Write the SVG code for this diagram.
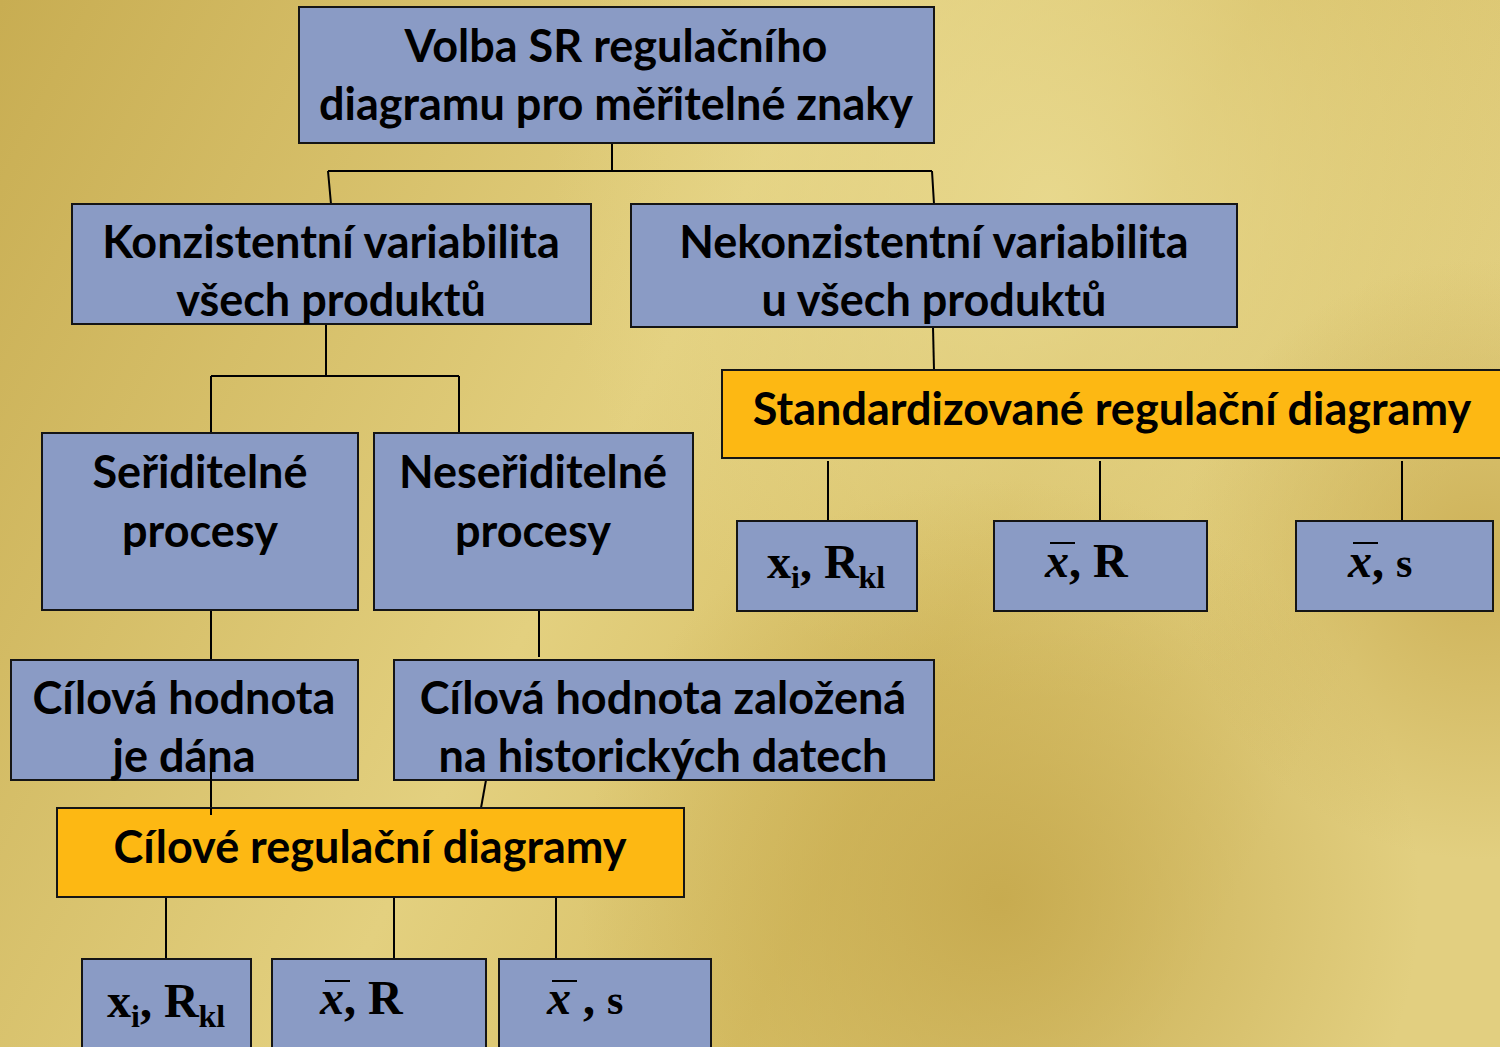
<svg xmlns="http://www.w3.org/2000/svg" width="1500" height="1047" viewBox="0 0 1500 1047">
<defs>
<linearGradient id="bg" x1="0" y1="0" x2="1" y2="0.35">
<stop offset="0" stop-color="#C8AD52"/>
<stop offset="0.5" stop-color="#E3D07F"/>
<stop offset="0.75" stop-color="#D7BF66"/>
<stop offset="1" stop-color="#E2CF80"/>
</linearGradient>
<radialGradient id="dark" cx="1000" cy="900" r="420" gradientUnits="userSpaceOnUse">
<stop offset="0" stop-color="#C5A84C" stop-opacity="0.9"/>
<stop offset="1" stop-color="#C5A84C" stop-opacity="0"/>
</radialGradient>
<radialGradient id="light" cx="1050" cy="200" r="500" gradientUnits="userSpaceOnUse">
<stop offset="0" stop-color="#E9DA90" stop-opacity="0.9"/>
<stop offset="1" stop-color="#E9DA90" stop-opacity="0"/>
</radialGradient>
<radialGradient id="dark2" cx="1480" cy="560" r="300" gradientUnits="userSpaceOnUse">
<stop offset="0" stop-color="#C8AA4E" stop-opacity="0.8"/>
<stop offset="1" stop-color="#C8AA4E" stop-opacity="0"/>
</radialGradient>
<style>
.b{fill:#8A9BC5;stroke:#151515;stroke-width:2}
.o{fill:#FDB813;stroke:#151515;stroke-width:2}
.t{font-family:Lato,"Open Sans",sans-serif;font-weight:bold;font-size:45px;fill:#000;text-anchor:middle}
.f{font-family:"Liberation Serif","Times New Roman",serif;font-weight:bold;font-size:48px;fill:#000}
.it{font-style:italic}
.c{stroke:#000;stroke-width:2;fill:none}
.ov{stroke:#000;stroke-width:2}
</style>
</defs>
<rect width="1500" height="1047" fill="url(#bg)"/>
<rect width="1500" height="1047" fill="url(#light)"/>
<rect width="1500" height="1047" fill="url(#dark)"/>
<rect width="1500" height="1047" fill="url(#dark2)"/>

<g id="connectors">
<path class="c" d="M612,143 V171 M328,171 H932 M328,171 L331,204 M932,171 L934,204"/>
<path class="c" d="M326,324 V376 M211,376 H459 M211,376 V433 M459,376 V433"/>
<path class="c" d="M933,327 L934,370"/>
<path class="c" d="M828,461 V521 M1100,461 V521 M1402,461 V521"/>
<path class="c" d="M211,610 V660 M539,610 V657"/>
<path class="c" d="M486,780 L481,808"/>
<path class="c" d="M166,897 V959 M394,897 V959 M556,897 V959"/>
</g>

<g id="n-top">
<rect class="b" x="299" y="7" width="635" height="136"/>
<text class="t" x="616" y="62">Volba SR regulačního</text>
<text class="t" x="616" y="120">diagramu pro měřitelné znaky</text>
</g>
<g id="n-konz">
<rect class="b" x="72" y="204" width="519" height="120"/>
<text class="t" x="331" y="258">Konzistentní variabilita</text>
<text class="t" x="331" y="316">všech produktů</text>
</g>
<g id="n-nekonz">
<rect class="b" x="631" y="204" width="606" height="123"/>
<text class="t" x="934" y="258">Nekonzistentní variabilita</text>
<text class="t" x="934" y="316">u všech produktů</text>
</g>
<g id="n-std">
<rect class="o" x="722" y="370" width="790" height="88"/>
<text class="t" x="1112" y="425">Standardizované regulační diagramy</text>
</g>
<g id="n-ser">
<rect class="b" x="42" y="433" width="316" height="177"/>
<text class="t" x="200" y="488">Seřiditelné</text>
<text class="t" x="200" y="547">procesy</text>
</g>
<g id="n-neser">
<rect class="b" x="374" y="433" width="319" height="177"/>
<text class="t" x="533" y="488">Neseřiditelné</text>
<text class="t" x="533" y="547">procesy</text>
</g>
<g id="n-r1">
<rect class="b" x="737" y="521" width="180" height="90"/>
<text class="f" x="767" y="578">x<tspan font-size="32" dy="10">i</tspan><tspan dy="-10">, R</tspan><tspan font-size="32" dy="10">kl</tspan></text>
</g>
<g id="n-r2">
<rect class="b" x="994" y="521" width="213" height="90"/>
<text class="f" x="1045" y="577"><tspan class="it">x</tspan>, R</text>
<line class="ov" x1="1050" y1="543" x2="1075" y2="543"/>
</g>
<g id="n-r3">
<rect class="b" x="1296" y="521" width="197" height="90"/>
<text class="f" x="1348" y="577"><tspan class="it">x</tspan>, <tspan font-size="42">s</tspan></text>
<line class="ov" x1="1353" y1="543" x2="1378" y2="543"/>
</g>
<g id="n-dana">
<rect class="b" x="11" y="660" width="347" height="120"/>
<text class="t" x="184" y="714">Cílová hodnota</text>
<text class="t" x="184" y="772">je dána</text>
</g>
<g id="n-hist">
<rect class="b" x="394" y="660" width="540" height="120"/>
<text class="t" x="663" y="714">Cílová hodnota založená</text>
<text class="t" x="663" y="772">na historických datech</text>
</g>
<path class="c" d="M211,768 V815"/>
<g id="n-cil">
<rect class="o" x="57" y="808" width="627" height="89"/>
<text class="t" x="370" y="863">Cílové regulační diagramy</text>
</g>
<path class="c" d="M211,808 V815"/>
<g id="n-b1">
<rect class="b" x="82" y="959" width="169" height="100"/>
<text class="f" x="107" y="1017">x<tspan font-size="32" dy="10">i</tspan><tspan dy="-10">, R</tspan><tspan font-size="32" dy="10">kl</tspan></text>
</g>
<g id="n-b2">
<rect class="b" x="272" y="959" width="214" height="100"/>
<text class="f" x="320" y="1014"><tspan class="it">x</tspan>, R</text>
<line class="ov" x1="325" y1="981" x2="350" y2="981"/>
</g>
<g id="n-b3">
<rect class="b" x="499" y="959" width="212" height="100"/>
<text class="f" x="547" y="1014"><tspan class="it">x</tspan> , <tspan font-size="42">s</tspan></text>
<line class="ov" x1="552" y1="981" x2="577" y2="981"/>
</g>
</svg>
